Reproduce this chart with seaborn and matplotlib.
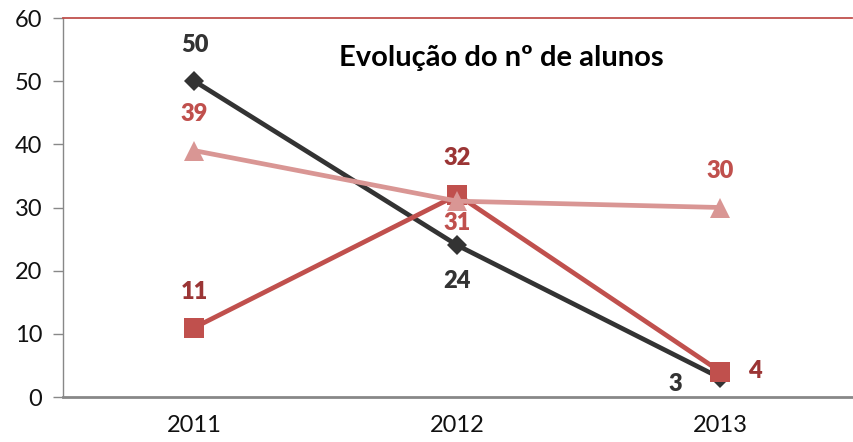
import matplotlib
matplotlib.use("Agg")
import matplotlib.pyplot as plt
import seaborn as sns
import pandas as pd

years = ["2011", "2012", "2013"]
serie_preta = [50, 24, 3]
serie_vermelha = [11, 32, 4]
serie_rosa = [39, 31, 30]
titulo = "Evolução do nº de alunos"
y_ticks = [0, 10, 20, 30, 40, 50, 60]

sns.set_theme(style="white")
plt.rcParams['font.family'] = ['Lato', 'DejaVu Sans']

fig = plt.figure(figsize=(8.54, 4.42), dpi=100)
ax = fig.add_axes([63/854, 45/442, (852-63)/854, (397-18)/442])

xpos = list(range(len(years)))
df = pd.DataFrame({"x": xpos, "preta": serie_preta, "vermelha": serie_vermelha, "rosa": serie_rosa})

sns.lineplot(data=df, x="x", y="preta", ax=ax, color="#333333", linewidth=3.4,
             marker="D", markersize=10, markeredgewidth=0, zorder=2)
sns.lineplot(data=df, x="x", y="vermelha", ax=ax, color="#C0504D", linewidth=3.4,
             marker="s", markersize=14, markeredgewidth=0, zorder=3)
sns.lineplot(data=df, x="x", y="rosa", ax=ax, color="#D99694", linewidth=3.4,
             marker="^", markersize=15, markeredgewidth=0, zorder=4)

lab_kw = dict(textcoords="offset pixels", ha="center", va="center",
              fontsize=17, fontweight="heavy")
offs_preta = [(0, 36), (0, -36), (-45, -6)]
for x, v, o in zip(xpos, serie_preta, offs_preta):
    ax.annotate(str(v), (x, v), xytext=o, color="#333333", **lab_kw)
offs_verm = [(0, 36), (0, 37), (34, 1)]
for x, v, o in zip(xpos, serie_vermelha, offs_verm):
    ax.annotate(str(v), (x, v), xytext=o, color="#9B3535", **lab_kw)
offs_rosa = [(0, 37), (0, -22), (0, 37)]
for x, v, o in zip(xpos, serie_rosa, offs_rosa):
    ax.annotate(str(v), (x, v), xytext=o, color="#C0504D", **lab_kw)

ax.set_xlim(-0.5, len(years) - 0.5)
ax.set_ylim(0, 60)
ax.set_yticks(y_ticks)
ax.set_yticklabels([str(t) for t in y_ticks], fontsize=17, color="#111111")
ax.set_xticks(xpos)
ax.set_xticklabels(years, fontsize=17, color="#111111")
ax.set_xticks([i - 0.5 for i in range(len(years) + 1)], minor=True)
ax.tick_params(axis="x", which="major", length=0, pad=13)
ax.tick_params(axis="x", which="minor", length=7, width=1, color="#888888")
ax.tick_params(axis="y", which="major", left=True, length=7, width=1, color="#888888", pad=8)
ax.set_xlabel("")
ax.set_ylabel("")

ax.spines["right"].set_visible(False)
ax.spines["top"].set_color("#C0504D")
ax.spines["top"].set_linewidth(1.3)
ax.spines["left"].set_color("#888888")
ax.spines["left"].set_linewidth(1)
ax.spines["bottom"].set_color("#888888")
ax.spines["bottom"].set_linewidth(2)
ax.spines["bottom"].set_zorder(1)

ax.text(0.555, 0.895, titulo, transform=ax.transAxes, ha="center", va="center",
        fontsize=21, fontweight="bold", color="#000000")

fig.savefig("out.png", dpi=100)
